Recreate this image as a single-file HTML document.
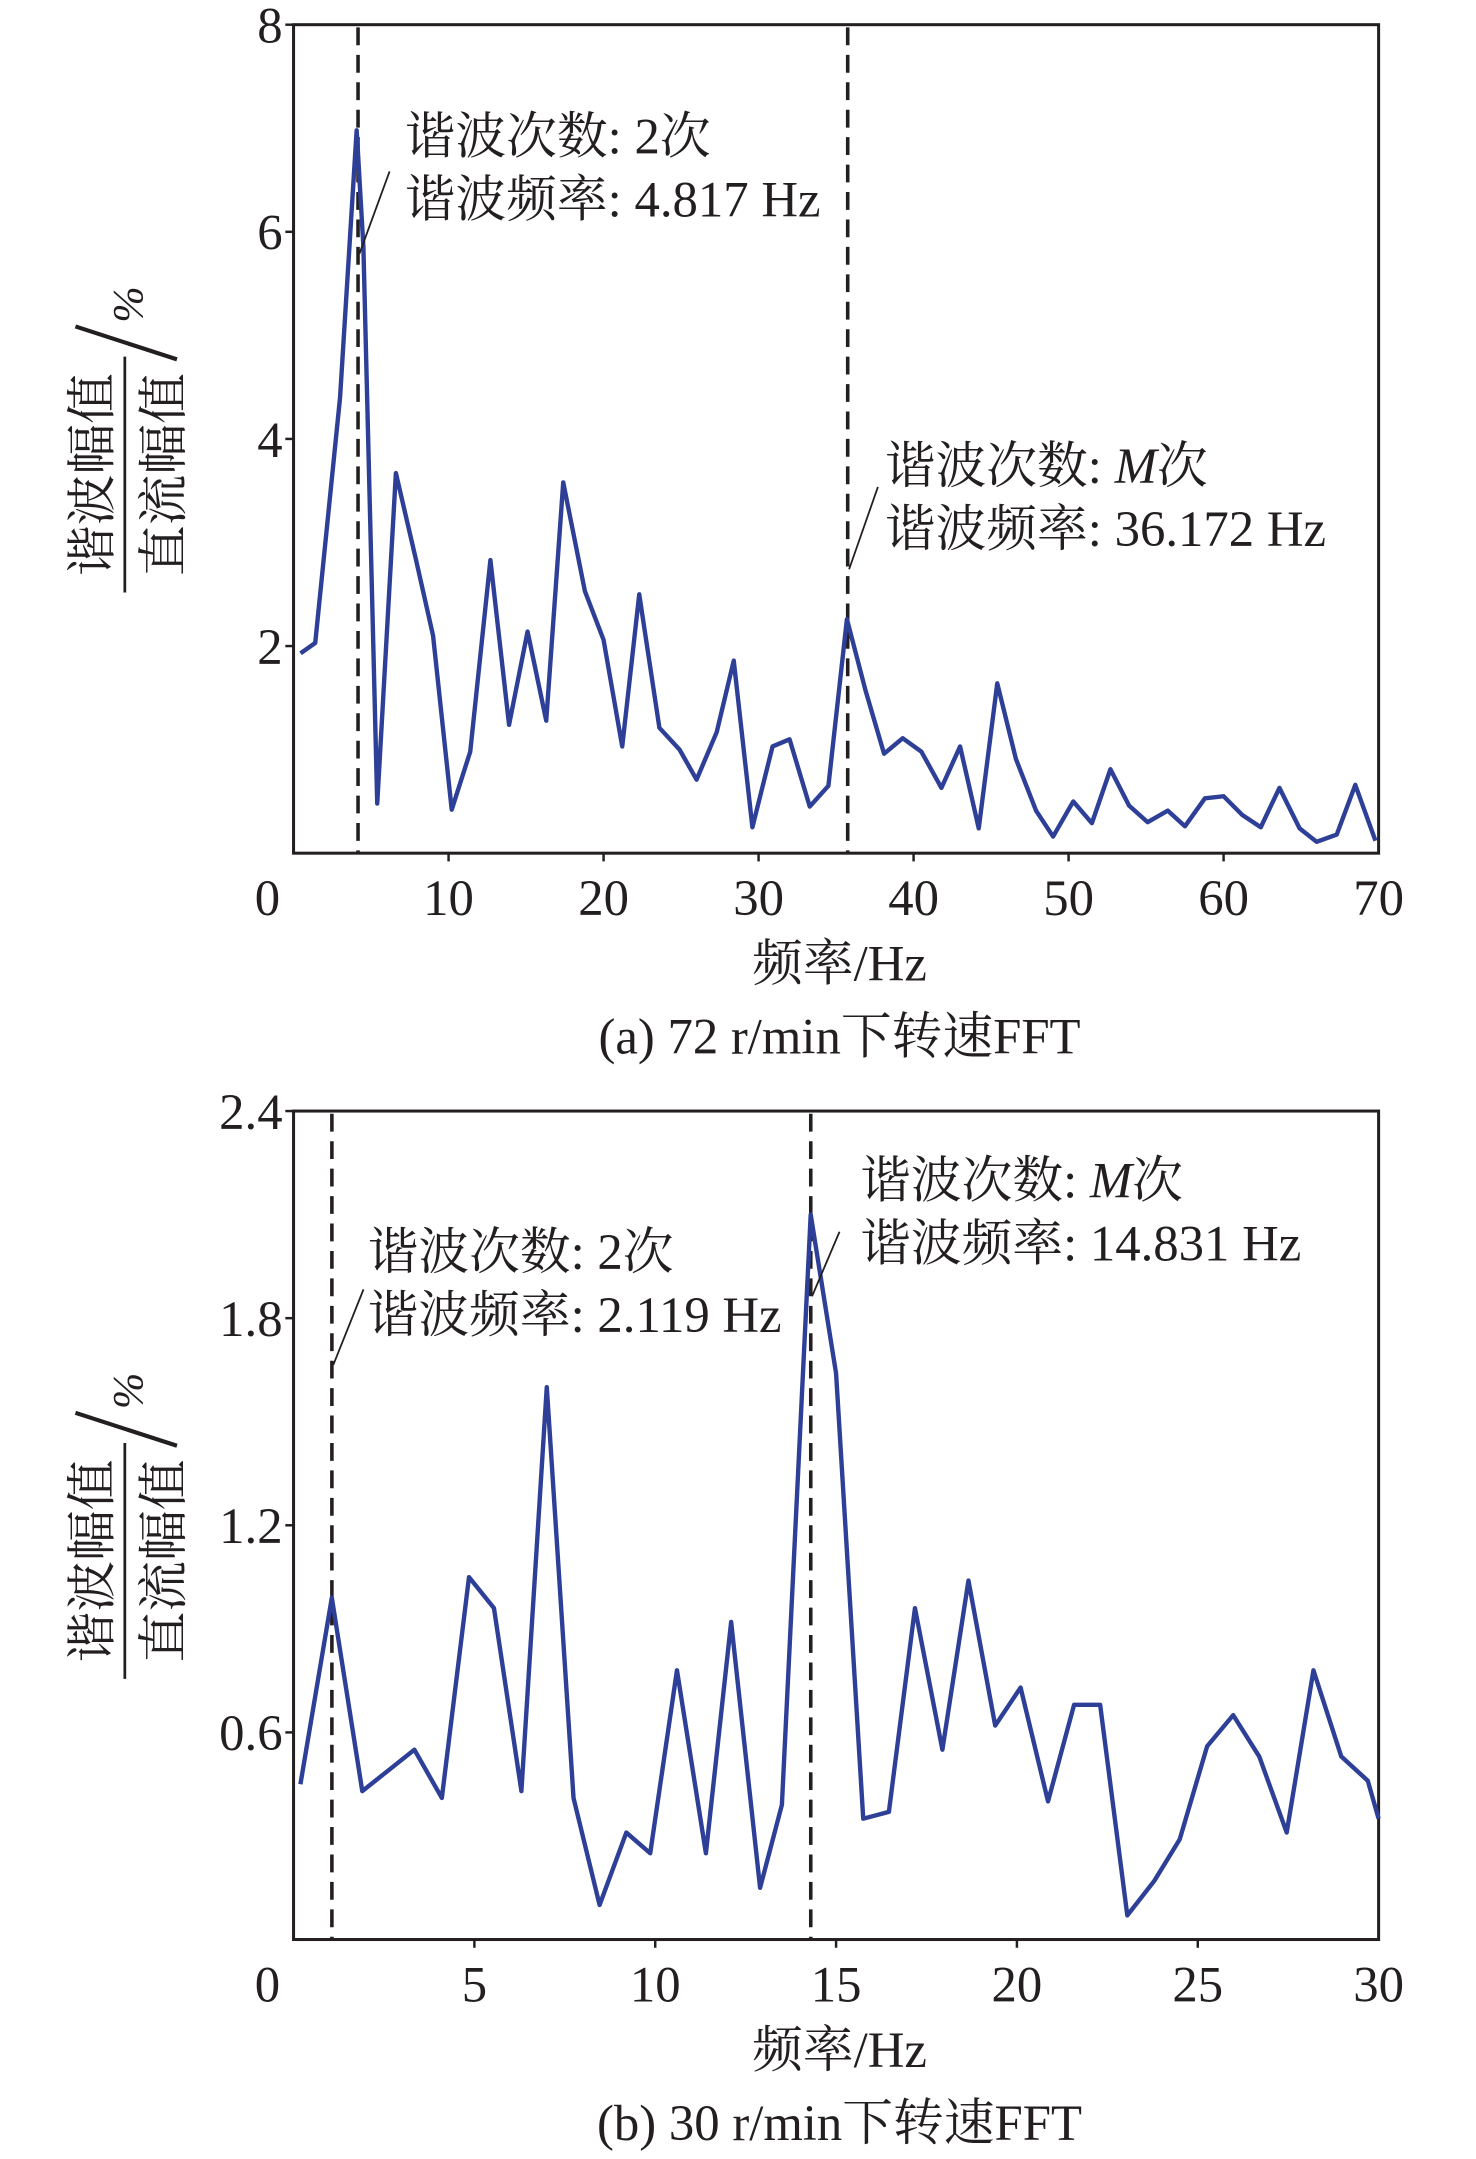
<!DOCTYPE html>
<html><head><meta charset="utf-8"><style>
html,body{margin:0;padding:0;background:#fff;}
svg{display:block;}
text{font-family:"Liberation Serif","Noto Serif CJK SC",serif;fill:#231f20;}
</style></head><body>
<svg id="chart" width="1476" height="2159" viewBox="0 0 1076 1574" preserveAspectRatio="none" xmlns="http://www.w3.org/2000/svg"></svg>
<script>
const freqA = [0.45,1.4,3.0,4.07,4.5,5.4,6.6,7.9,9.0,10.2,11.4,12.7,13.9,15.1,16.3,17.4,18.8,20.0,21.2,22.3,23.6,24.9,26.0,27.3,28.4,29.6,30.9,32.0,33.3,34.5,35.7,36.9,38.1,39.3,40.5,41.8,43.0,44.2,45.4,46.6,47.9,49.0,50.3,51.5,52.7,53.9,55.1,56.4,57.5,58.8,60.0,61.2,62.4,63.6,64.9,66.0,67.3,68.5,69.8];
const ampA = [1.93,2.03,4.4,6.98,5.86,0.48,3.67,2.83,2.1,0.42,0.98,2.83,1.24,2.14,1.28,3.58,2.53,2.06,1.03,2.5,1.21,1.0,0.71,1.17,1.86,0.25,1.03,1.1,0.45,0.65,2.26,1.57,0.96,1.11,0.98,0.63,1.03,0.24,1.64,0.91,0.41,0.16,0.5,0.29,0.81,0.46,0.3,0.41,0.26,0.53,0.55,0.37,0.25,0.63,0.24,0.11,0.18,0.66,0.12];
const freqB = [0.19,1.06,1.9,3.34,4.1,4.85,5.54,6.3,7.0,7.74,8.46,9.2,9.86,10.6,11.4,12.1,12.9,13.5,14.3,15.0,15.75,16.46,17.18,17.94,18.66,19.4,20.1,20.86,21.58,22.3,23.05,23.8,24.5,25.26,25.98,26.7,27.46,28.2,28.97,29.7,30];
const ampB = [0.45,0.99,0.43,0.55,0.41,1.05,0.96,0.43,1.6,0.41,0.10,0.31,0.25,0.78,0.25,0.92,0.15,0.39,2.1,1.64,0.35,0.37,0.96,0.55,1.04,0.62,0.73,0.40,0.68,0.68,0.07,0.17,0.29,0.56,0.65,0.53,0.31,0.78,0.53,0.46,0.35];
const xTicksA = [0,10,20,30,40,50,60,70];
const yTicksA = [2,4,6,8];
const xTicksB = [0,5,10,15,20,25,30];
const yTicksB = [0.6,1.2,1.8,2.4];
const markA = [4.16,35.75];
const markB = [1.06,14.3];

const NS="http://www.w3.org/2000/svg";
const svg=document.getElementById('chart');
function mk(tag,attrs,parent){const e=document.createElementNS(NS,tag);for(const k in attrs)e.setAttribute(k,attrs[k]);(parent||svg).appendChild(e);return e;}
function txt(s,attrs,parent){const e=mk('text',attrs,parent);e.textContent=s;return e;}

function panel(cfg){
  const g=mk('g',{});
  
  
  const L=214,R=1005,T=cfg.top,B=cfg.top+604;
  const xs=v=>L+(v-cfg.xmin)/(cfg.xmax-cfg.xmin)*(R-L);
  const ys=v=>B-(v/cfg.ymax)*(B-T);
  const box=mk('rect',{x:L,y:T,width:R-L,height:B-T,fill:'none',stroke:'#231f20','stroke-width':2.2},g);
  
  
  cfg.xt.forEach(t=>{
    const x=xs(t);
    if(t!==cfg.xmin&&t!==cfg.xmax) mk('line',{x1:x,y1:B,x2:x,y2:B+6,stroke:'#231f20','stroke-width':1.8},g);
    const lb=txt(String(t),{x:(t===cfg.xmin?195:x),y:B+45,'font-size':37,'text-anchor':'middle'},g);
    
    
  });
  cfg.yt.forEach(t=>{
    const y=ys(t);
    mk('line',{x1:L-6,y1:y,x2:L,y2:y,stroke:'#231f20','stroke-width':1.8},g);
    const lb=txt(cfg.fmt(t),{x:206,y:y+13,'font-size':37,'text-anchor':'end'},g);
    
    
  });
  cfg.marks.forEach(m=>{
    const x=xs(m);
    const d=mk('line',{x1:x,y1:T+2,x2:x,y2:B,stroke:'#231f20','stroke-width':2.6,'stroke-dasharray':'13,7'},g);
    
    
  });
  const pts=cfg.fx.map((f,i)=>xs(f).toFixed(1)+','+ys(cfg.ay[i]).toFixed(1)).join(' ');
  const pl=mk('polyline',{points:pts,fill:'none',stroke:'#2e3f97','stroke-width':3.2,'stroke-linejoin':'round'},g);
  
  
  cfg.notes.forEach(n=>{
    mk('line',{x1:n.lx1,y1:n.ly1,x2:n.lx2,y2:n.ly2,stroke:'#231f20','stroke-width':1.3},g);
    const t1=txt('',{x:n.x,y:n.y,'font-size':37},g);
    t1.innerHTML=n.l1;
    
    
    const t2=txt(n.l2,{x:n.x,y:n.y+46,'font-size':37},g);
    
    
  });
  const yl=mk('g',{},g);
  
  
  const cy=T+328;
  txt('谐波幅值',{x:0,y:0,'font-size':37,'text-anchor':'middle',transform:`translate(80,${cy}) rotate(-90)`},yl);
  mk('line',{x1:91,y1:cy-86,x2:91,y2:cy+86,stroke:'#231f20','stroke-width':2},yl);
  txt('直流幅值',{x:0,y:0,'font-size':37,'text-anchor':'middle',transform:`translate(132,${cy}) rotate(-90)`},yl);
  mk('line',{x1:55,y1:cy-108,x2:129,y2:cy-84,stroke:'#231f20','stroke-width':3},yl);
  txt('%',{x:0,y:0,'font-size':32,'font-style':'italic','text-anchor':'middle',transform:`translate(104,${cy-124}) rotate(-90)`},yl);
  const xt=txt('频率/Hz',{x:612,y:B+93,'font-size':37,'text-anchor':'middle'},g);
  
  
  const cap=txt(cfg.caption,{x:612,y:B+146,'font-size':37,'text-anchor':'middle'},g);
  
  
}

panel({name:'chart-a-72rpm',top:18,xmin:0,xmax:70,ymax:8,xt:xTicksA,yt:yTicksA,fmt:t=>String(t),
  fx:freqA,ay:ampA,marks:markA,caption:'(a) 72 r/min下转速FFT',
  notes:[{x:295,y:112,l1:'谐波次数: 2次',l2:'谐波频率: 4.817 Hz',lx1:262,ly1:185,lx2:284,ly2:125},
         {x:645,y:352,l1:'谐波次数: <tspan font-style="italic">M</tspan>次',l2:'谐波频率: 36.172 Hz',lx1:619,ly1:415,lx2:640,ly2:355}]});
panel({name:'chart-b-30rpm',top:810,xmin:0,xmax:30,ymax:2.4,xt:xTicksB,yt:yTicksB,fmt:t=>t.toFixed(1),
  fx:freqB,ay:ampB,marks:markB,caption:'(b) 30 r/min下转速FFT',
  notes:[{x:268,y:925,l1:'谐波次数: 2次',l2:'谐波频率: 2.119 Hz',lx1:243,ly1:995,lx2:265,ly2:940},
         {x:627,y:873,l1:'谐波次数: <tspan font-style="italic">M</tspan>次',l2:'谐波频率: 14.831 Hz',lx1:592,ly1:945,lx2:612,ly2:898}]});
</script>
</body></html>
